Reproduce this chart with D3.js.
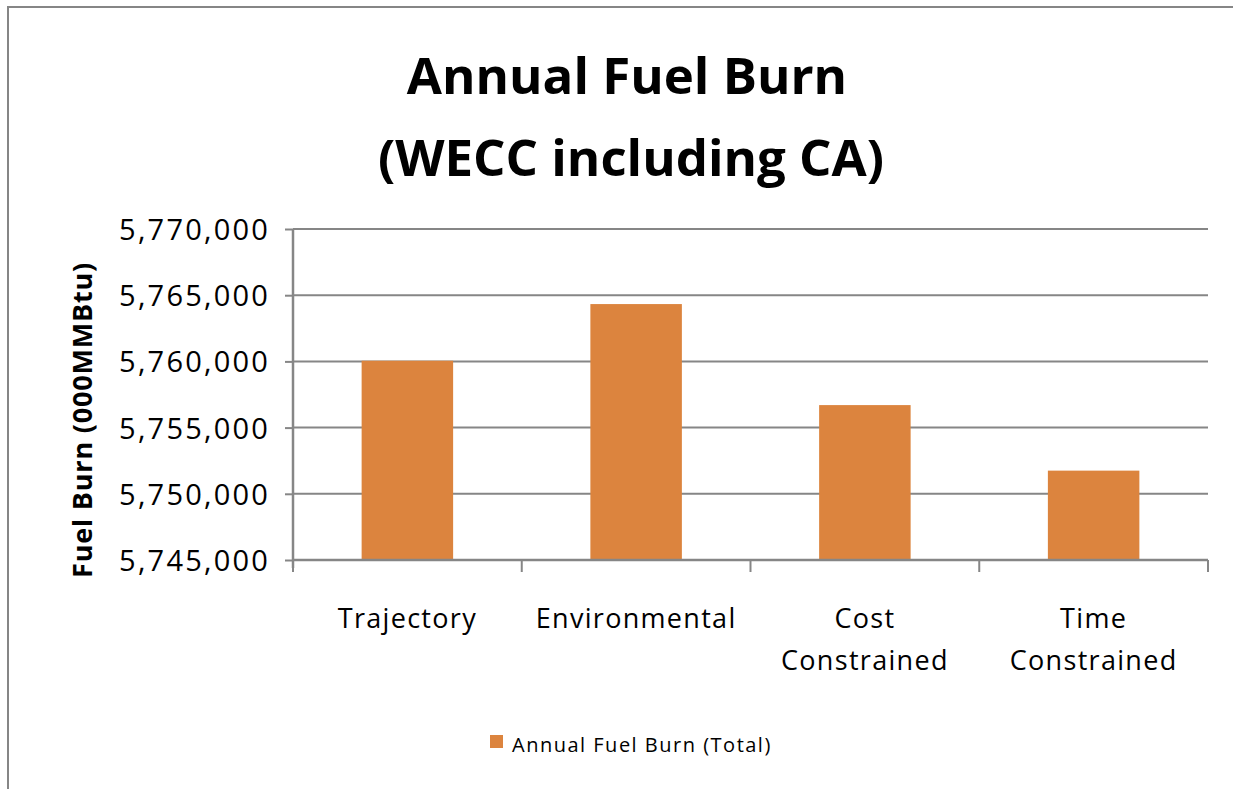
<!DOCTYPE html>
<html>
<head>
<meta charset="utf-8">
<script src="https://cdn.jsdelivr.net/npm/d3@7"></script>
<style>
  body { margin: 0; background: #fff; }
  svg { display: block; }
</style>
</head>
<body>
<div id="container"></div>
<script>
// chart data
var categories = ["Trajectory", "Environmental", "Cost|Constrained", "Time|Constrained"];
var fuelBurn = [5760050, 5764330, 5756700, 5751750];
var yTicks = [5745000, 5750000, 5755000, 5760000, 5765000, 5770000];
var seriesName = "Annual Fuel Burn (Total)";

var W = 1233, H = 789;
var svg = d3.select("div#container")
  .append("svg")
  .attr("width", W)
  .attr("height", H);

// outer frame
svg.append("rect")
  .attr("x", 8).attr("y", 7)
  .attr("width", W + 10).attr("height", H + 10)
  .attr("fill", "#fff")
  .attr("stroke", "#868686")
  .attr("stroke-width", 2);

var margin = {top: 229, right: 25, bottom: 229, left: 293};
var width = 1208 - margin.left;
var height = 560 - margin.top;
var g = svg.append("g").attr("transform", "translate(" + margin.left + "," + margin.top + ")");

var x = d3.scaleBand().domain(categories).range([0, width]).paddingInner(0.6).paddingOuter(0.3);
var xb = d3.scaleBand().domain(categories).range([0, width]);
var y = d3.scaleLinear().domain([5745000, 5770000]).range([height, 0]);
var fmt = d3.format(",");

// gridlines
g.selectAll(".grid")
  .data(yTicks)
  .enter().append("line")
  .attr("x1", 0).attr("x2", width)
  .attr("y1", function(d) { return y(d); })
  .attr("y2", function(d) { return y(d); })
  .attr("stroke", "#868686")
  .attr("stroke-width", 2);

// bars
g.selectAll(".bar")
  .data(fuelBurn)
  .enter().append("rect")
  .attr("x", function(d, i) { return x(categories[i]); })
  .attr("width", x.bandwidth())
  .attr("y", function(d) { return y(d); })
  .attr("height", function(d) { return height - y(d); })
  .attr("fill", "#DC843E");

// y axis
var yAxis = g.append("g")
  .call(d3.axisLeft(y).tickValues(yTicks).tickFormat(fmt).tickSize(8).tickPadding(15));
yAxis.select(".domain").attr("stroke", "#868686").attr("stroke-width", 2.5)
  .attr("d", "M0," + (height + 8) + "V0");
yAxis.selectAll(".tick line").attr("stroke", "#868686").attr("stroke-width", 2);
yAxis.selectAll(".tick text")
  .attr("fill", "#000")
  .attr("dy", "0.36em")
  .style("font-family", "'Open Sans', sans-serif")
  .style("font-size", "29px")
  .style("letter-spacing", "2.2px");

// x axis
var xAxis = g.append("g").attr("transform", "translate(0," + height + ")");
xAxis.append("line")
  .attr("x1", 0).attr("x2", width)
  .attr("stroke", "#868686").attr("stroke-width", 2.5);
xAxis.selectAll(".xtick")
  .data(categories.concat(["end"]))
  .enter().append("line")
  .attr("x1", function(d, i) { return i < categories.length ? xb(d) : width; })
  .attr("x2", function(d, i) { return i < categories.length ? xb(d) : width; })
  .attr("y1", 0).attr("y2", 12)
  .attr("stroke", "#868686").attr("stroke-width", 2);

var xl = xAxis.selectAll(".xlab")
  .data(categories)
  .enter().append("text")
  .attr("text-anchor", "middle")
  .attr("fill", "#000")
  .style("font-family", "'Open Sans', sans-serif")
  .style("font-size", "27px")
  .style("letter-spacing", "1.3px");
xl.each(function(d) {
  var parts = d.split("|");
  var t = d3.select(this);
  parts.forEach(function(p, k) {
    t.append("tspan")
      .attr("x", xb(d) + xb.bandwidth() / 2)
      .attr("y", 68 + k * 42)
      .text(p);
  });
});

// y axis title
svg.append("text")
  .attr("transform", "translate(92,420) rotate(-90)")
  .attr("text-anchor", "middle")
  .attr("fill", "#000")
  .style("font-family", "'Open Sans', sans-serif")
  .style("font-weight", "bold")
  .style("font-size", "27px")
  .style("letter-spacing", "0.8px")
  .text("Fuel Burn  (000MMBtu)");

// title
var title = svg.append("text")
  .attr("text-anchor", "middle")
  .attr("fill", "#000")
  .style("font-family", "'Open Sans', sans-serif")
  .style("font-weight", "bold")
  .style("font-size", "51px");
title.append("tspan").attr("x", 627).attr("y", 94).text("Annual Fuel Burn");
title.append("tspan").attr("x", 631).attr("y", 176).text("(WECC including CA)");

// legend
svg.append("rect")
  .attr("x", 490).attr("y", 735)
  .attr("width", 13).attr("height", 13)
  .attr("fill", "#DC843E");
svg.append("text")
  .attr("x", 512).attr("y", 752)
  .attr("fill", "#000")
  .style("font-family", "'Open Sans', sans-serif")
  .style("font-size", "20px")
  .style("letter-spacing", "1.5px")
  .text(seriesName);
</script>
</body>
</html>
